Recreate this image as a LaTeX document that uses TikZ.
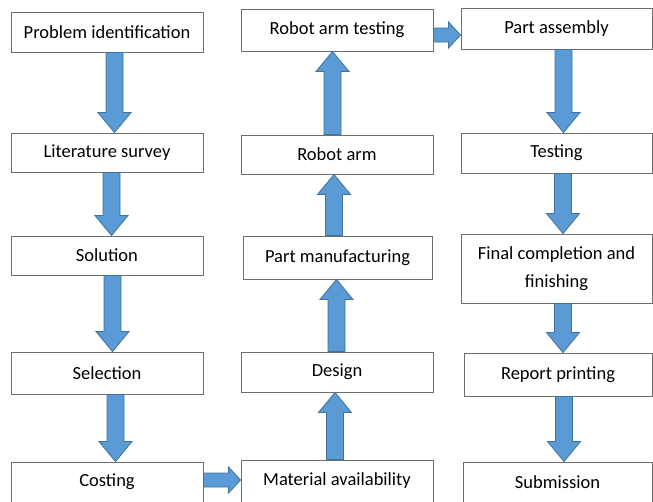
\documentclass[tikz,border=0pt]{standalone}
\usepackage{fontspec}
\setmainfont{Carlito}
\usetikzlibrary{calc}
\definecolor{flowBlue}{RGB}{91,155,213}
\definecolor{flowEdge}{RGB}{65,113,156}
\definecolor{boxEdge}{RGB}{110,110,110}

\begin{document}
\begin{tikzpicture}[x=1pt, y=-1pt,
      box/.style={draw=boxEdge, line width=0.9pt, fill=white, inner sep=0pt, align=center,
        minimum width=192pt, minimum height=40pt, font=\fontsize{18.5}{28}\selectfont},
      flow/.style={fill=flowBlue, draw=flowEdge, line width=0.8pt, line join=miter}
    ]
    \useasboundingbox (0,0) rectangle (653,501);

    % first column
    \node[box] (prob) at (107,32) {Problem identification};
    \node[box, minimum height=39pt] (lit) at (107,152.5) {Literature survey};
    \node[box, minimum height=39pt] (sol) at (107,255.5) {Solution};
    \node[box, minimum height=42pt] (sel) at (107,373) {Selection};
    \node[box] (cost) at (107,482) {Costing};

    % second column
    \node[box, minimum height=42pt] (rtest) at (337,30) {Robot arm testing};
    \node[box, minimum height=39pt] (robot) at (337,154.5) {Robot arm};
    \node[box, minimum width=189pt, minimum height=43pt] (pman) at (337.5,257.5) {Part manufacturing};
    \node[box] (design) at (337,372) {Design};
    \node[box, minimum height=42pt] (mat) at (337,481) {Material availability};

    % third column
    \node[box, minimum width=191pt, minimum height=41pt] (assy) at (556.5,28.5) {Part assembly};
    \node[box, minimum width=191pt] (test) at (556.5,153) {Testing};
    \node[box, minimum width=191pt, minimum height=69pt] (final) at (556.5,268.5) {Final completion and\\finishing};
    \node[box, minimum width=188pt, minimum height=43pt] (report) at (558,374.5) {Report printing};
    \node[box, minimum width=189pt] (subm) at (557.5,482) {Submission};

    \foreach \a/\b/\dx in {prob/lit/7.5, lit/sol/4.5, sol/sel/5.5, sel/cost/8.5,
                           assy/test/7, test/final/6.5, final/report/6.5, report/subm/6} {
      \draw[flow] let \p1=($(\a.south)+(\dx pt,0)$), \p2=(\b.north) in
        (\x1-8.5pt,\y1) -- (\x1+8.5pt,\y1) -- (\x1+8.5pt,\y2+20pt) -- (\x1+16.5pt,\y2+20pt)
        -- (\x1,\y2) -- (\x1-16.5pt,\y2+20pt) -- (\x1-8.5pt,\y2+20pt) -- cycle;
    }
    \foreach \a/\b/\dx in {mat/design/-2, design/pman/-0.5, pman/robot/-3.5, robot/rtest/-4.5} {
      \draw[flow] let \p1=($(\a.north)+(\dx pt,0)$), \p2=(\b.south) in
        (\x1-8.5pt,\y1) -- (\x1+8.5pt,\y1) -- (\x1+8.5pt,\y2-20pt) -- (\x1+16.5pt,\y2-20pt)
        -- (\x1,\y2) -- (\x1-16.5pt,\y2-20pt) -- (\x1-8.5pt,\y2-20pt) -- cycle;
    }
    \foreach \a/\b/\dy in {cost/mat/2, rtest/assy/-5} {
      \draw[flow] let \p1=($(\a.east)+(0,\dy pt)$), \p2=(\b.west) in
        (\x1,\y1+7pt) -- (\x2-12pt,\y1+7pt) -- (\x2-12pt,\y1+13pt) -- (\x2,\y1)
        -- (\x2-12pt,\y1-13pt) -- (\x2-12pt,\y1-7pt) -- (\x1,\y1-7pt) -- cycle;
    }
  \end{tikzpicture}
\end{document}
